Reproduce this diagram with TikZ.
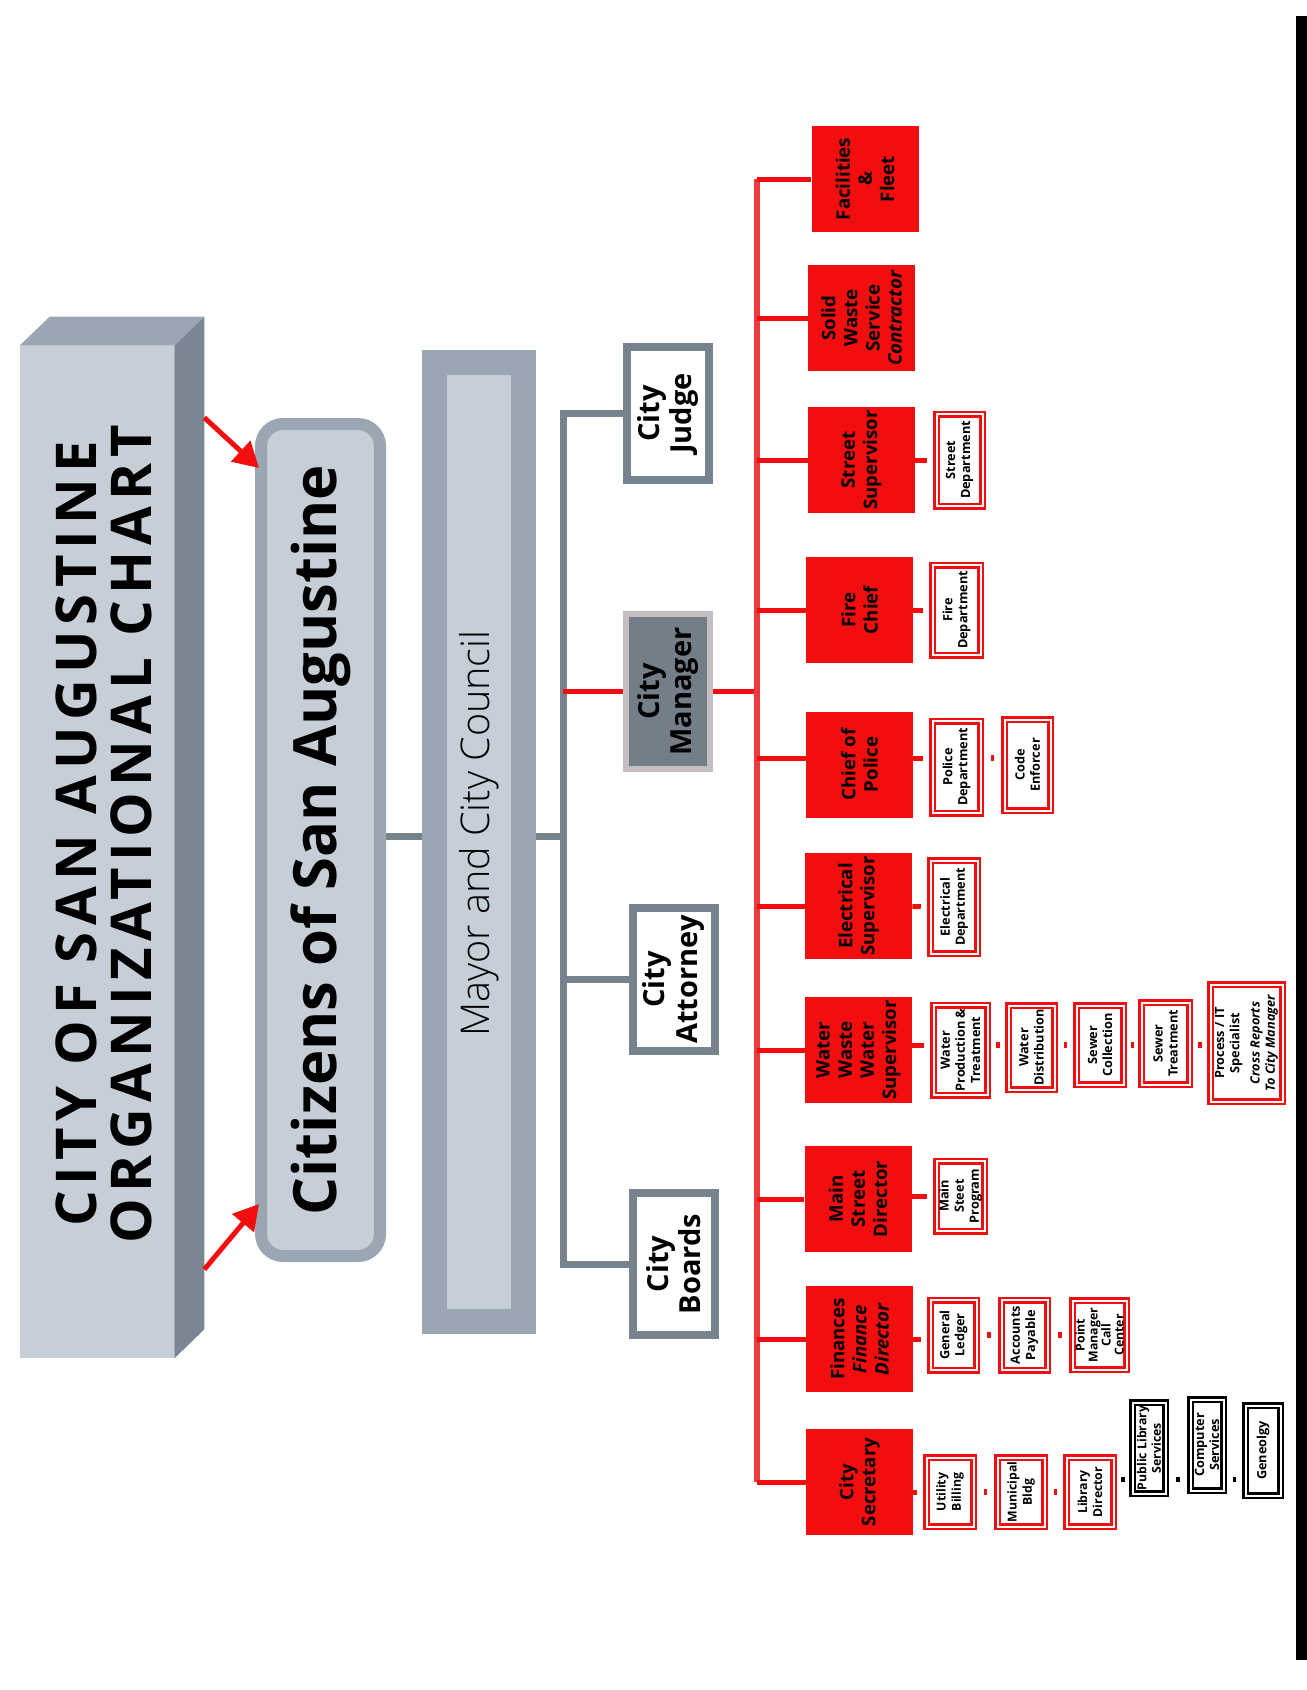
\documentclass[tikz,border=0pt]{standalone}
\usepackage{fontspec}
\setmainfont{Open Sans}
\newfontfamily\spacedfont[LetterSpace=11]{Open Sans}
\IfFontExistsTF{Open Sans Light}{\newfontfamily\lightfont{Open Sans Light}}{\newfontfamily\lightfont{Open Sans}}
\usetikzlibrary{arrows.meta,calc}
\pgfdeclarelayer{background}
\pgfsetlayers{background,main}

\definecolor{slatelight}{RGB}{198,207,215}
\definecolor{slatemid}{RGB}{154,166,177}
\definecolor{slatedark}{RGB}{122,134,145}
\definecolor{lineslate}{RGB}{118,130,141}
\definecolor{mgrfill}{RGB}{115,126,137}
\definecolor{mgrrim}{RGB}{196,191,190}
\definecolor{chartred}{RGB}{242,14,14}
\definecolor{busred}{RGB}{236,58,64}

\newcommand\px{0.02cm}

\tikzset{
  vert/.style={rotate=90, inner sep=0pt, align=center},
  officebox/.style={vert, draw=lineslate, fill=white, line width=8*\px, minimum height=82*\px, font=\fontsize{16.5}{18.5}\selectfont\bfseries},
  deptbox/.style={vert, fill=chartred, minimum width=106*\px, minimum height=107*\px, font=\fontsize{10.6}{12.6}\selectfont\bfseries},
  unitbox/.style 2 args={vert, draw=chartred, fill=white, line width=2.5*\px, double=white, double distance=2*\px, minimum height=#1*\px-7*\px, minimum width=#2*\px-7*\px, font=\fontsize{7.25}{8.6}\selectfont\bfseries},
  libbox/.style 2 args={unitbox={#1}{#2}, draw=black},
  grayline/.style={draw=lineslate, line width=7*\px},
  redline/.style={draw=chartred, line width=5*\px},
  busline/.style={draw=busred, line width=5.5*\px},
  sublink/.style={redline, shorten >=8.5*\px},
  gaptick/.style={draw=chartred, line width=6*\px, shorten <=#1*\px, shorten >=#1*\px},
  gaptick/.default=8,
  blacktick/.style={gaptick=#1, draw=black, line width=5*\px},
  pointer/.style={draw=chartred, line width=5*\px, -{Triangle[length=0.5cm, width=0.55cm]}},
}

\begin{document}
\begin{tikzpicture}[x=0.02cm, y=-0.02cm]
	\useasboundingbox (0,0) rectangle (1307,1690);

	% title block, drawn as a box in perspective
	\node[vert, fill=slatelight, minimum width=1012*\px, minimum height=154*\px] (ttlbox) at (97,852) {};
	\fill[slatemid] (ttlbox.north east) -- ++(30,-29) -- ($(ttlbox.south east)+(30,-29)$) -- (ttlbox.south east) -- cycle;
	\fill[slatedark] (ttlbox.south east) -- ++(30,-29) -- ($(ttlbox.south west)+(30,-29)$) -- (ttlbox.south west) -- cycle;
	\node[vert, font=\spacedfont\bfseries\fontsize{32}{31}\selectfont] (ttl) at (104,834) {CITY OF SAN AUGUSTINE\\ORGANIZATIONAL CHART};

	% citizens and council
	\node[vert, draw=slatemid, fill=slatelight, line width=12*\px, rounded corners=0.44cm, minimum width=832*\px, minimum height=119*\px, font=\fontsize{34}{40}\selectfont\bfseries] (cit) at (320.5,840) {Citizens of San Augustine};
	\node[vert, draw=slatemid, fill=slatelight, line width=25*\px, minimum width=959*\px, minimum height=89*\px, font=\lightfont\fontsize{22.5}{24}\selectfont] (mayor) at (479,842) {\hspace*{0.34cm}Mayor and City Council};

	% offices under the council
	\node[officebox, minimum width=133*\px] (judge) at (668,413.5) {City\\Judge};
	\node[officebox, draw=mgrrim, fill=mgrfill, line width=6*\px, minimum width=155*\px, minimum height=84*\px] (mgr) at (668,691.5) {City\\Manager};
	\node[officebox, minimum width=143*\px] (atty) at (673.5,979.5) {City\\Attorney};
	\node[officebox, minimum width=142*\px] (boards) at (673.5,1264) {City\\Boards};

	% departments under the city manager
	\node[deptbox] (fac) at (865,179) {Facilities\\\&\\Fleet};
	\node[deptbox] (waste) at (861.5,318) {Solid\\Waste\\Service\\\textit{Contractor}};
	\node[deptbox] (street) at (861.5,460) {Street\\Supervisor};
	\node[deptbox] (fire) at (859.5,610) {Fire\\Chief};
	\node[deptbox] (police) at (859.5,764.5) {Chief of\\Police};
	\node[deptbox] (elec) at (858.5,906) {Electrical\\Supervisor};
	\node[deptbox] (water) at (858.5,1050) {Water\\Waste\\Water\\Supervisor};
	\node[deptbox] (mainst) at (858,1199) {Main\\Street\\Director};
	\node[deptbox] (fin) at (859.5,1339) {Finances\\\textit{Finance}\\\textit{Director}};
	\node[deptbox] (sec) at (859.5,1482) {City\\Secretary};

	% units
	\node[unitbox={53}{99}] (stdept) at (959.5,460) {Street\\Department};
	\node[unitbox={55}{97}] (firedept) at (956.5,610) {Fire\\Department};
	\node[unitbox={55}{99}] (poldept) at (956.5,767) {Police\\Department};
	\node[unitbox={53}{98}] (code) at (1027.5,765) {Code\\Enforcer};
	\node[unitbox={54}{100}] (elecdept) at (954,907) {Electrical\\Department};
	\node[unitbox={61}{97}] (wprod) at (960.5,1050) {Water\\Production \&\\Treatment};
	\node[unitbox={53}{91}] (wdist) at (1031.5,1047.5) {Water\\Distribution};
	\node[unitbox={54}{86}] (scoll) at (1100,1045) {Sewer\\Collection};
	\node[unitbox={55}{89}] (streat) at (1165.5,1043.5) {Sewer\\Treatment};
	\node[unitbox={79}{124}] (proc) at (1246.5,1043) {Process / IT\\Specialist\\[3pt]\textit{Cross Reports}\\\textit{To City Manager}};
	\node[unitbox={55}{77}] (msprog) at (960.5,1196) {Main\\Steet\\Program};
	\node[unitbox={53}{77}] (ledger) at (953.5,1335) {General\\Ledger};
	\node[unitbox={53}{77}] (payable) at (1024.5,1335) {Accounts\\Payable};
	\node[unitbox={61}{76}, font=\fontsize{7}{7.4}\selectfont\bfseries] (callc) at (1099.5,1335) {Point\\Manager\\Call\\Center};
	\node[unitbox={54}{76}, font=\fontsize{7}{8.6}\selectfont\bfseries] (billing) at (950,1492) {Utility\\Billing};
	\node[unitbox={54}{76}, font=\fontsize{7}{8.6}\selectfont\bfseries] (muni) at (1021,1492) {Municipal\\Bldg};
	\node[unitbox={54}{76}, font=\fontsize{7}{8.6}\selectfont\bfseries] (libdir) at (1090,1492) {Library\\Director};
	\node[libbox={40}{98}, font=\fontsize{7}{8.2}\selectfont\bfseries] (publib) at (1149,1448) {Public Library\\Services};
	\node[libbox={40}{98}] (compsv) at (1207,1445) {Computer\\Services};
	\node[libbox={42}{97}] (geneolgy) at (1263,1450.5) {Geneolgy};

	% junction points
	\coordinate (hub) at (563,836);
	\coordinate (bus) at (757,694);
	\coordinate (rpol) at (0,758);
	\coordinate (rwat) at (0,1045);
	\coordinate (rlib) at (0,1479);

	\begin{pgfonlayer}{background}
		% council lines
		\draw[grayline] (cit.south |- hub) -- (mayor.north |- hub);
		\draw[grayline] (mayor.south |- hub) -- (hub);
		\draw[grayline] (judge) -- (hub |- judge) -- (hub |- boards) -- (boards);
		\draw[grayline] (hub |- atty) -- (atty);
		\draw[redline] (hub |- mgr) -- (bus |- mgr);

		% red bus and branches
		\draw[busline] (bus |- fac) -- (bus |- sec);
		\foreach \d in {fac,waste,street,fire,elec,water,mainst,fin,sec}
			\draw[redline] (bus |- \d) -- (\d);
		\draw[redline] (bus |- rpol) -- (police.north |- rpol);
	\end{pgfonlayer}

	% links to units
	\draw[sublink] (street) -- (stdept);
	\draw[sublink] (fire) -- (firedept);
	\draw[sublink] (police.south |- rpol) -- (poldept.north |- rpol);
	\draw[sublink] (elec) -- (elecdept);
	\draw[sublink] (water.south |- rwat) -- (wprod.north |- rwat);
	\draw[sublink] (mainst.south |- msprog) -- (msprog);
	\draw[sublink] (fin) -- (fin -| ledger.north);
	\draw[sublink] (sec.south |- billing) -- (billing);

	% small ticks between units
	\draw[gaptick=9] (poldept.south |- rpol) -- (code.north |- rpol);
	\draw[gaptick=7.5] (wprod.south |- rwat) -- (wdist.north |- rwat);
	\draw[gaptick] (wdist.south |- rwat) -- (scoll.north |- rwat);
	\draw[gaptick=6] (scoll.south |- rwat) -- (streat.north |- rwat);
	\draw[gaptick=7.5] (streat.south |- rwat) -- (proc.north |- rwat);
	\draw[gaptick=9.5] (ledger) -- (payable);
	\draw[gaptick=9.5] (payable) -- (callc);
	\draw[gaptick=9] (billing) -- (muni);
	\draw[gaptick] (muni) -- (libdir);
	\draw[blacktick=6.5] (libdir.south |- rlib) -- (publib.north |- rlib);
	\draw[blacktick=9.5] (publib.south |- rlib) -- (compsv.north |- rlib);
	\draw[blacktick] (compsv.south |- rlib) -- (geneolgy.north |- rlib);

	% arrows from the title to the citizens
	\coordinate (from1) at ($(ttlbox.south east)+(30,72)$);
	\coordinate (from2) at ($(ttlbox.south west)+(30,-89)$);
	\draw[pointer] (from1) -- ($(cit.north east)+(4,50)$);
	\draw[pointer] (from2) -- ($(cit.north west)+(4,-58)$);

	% dark edge of the page
	\fill[black] (1296,16) rectangle (1307,1660);
\end{tikzpicture}
\end{document}
